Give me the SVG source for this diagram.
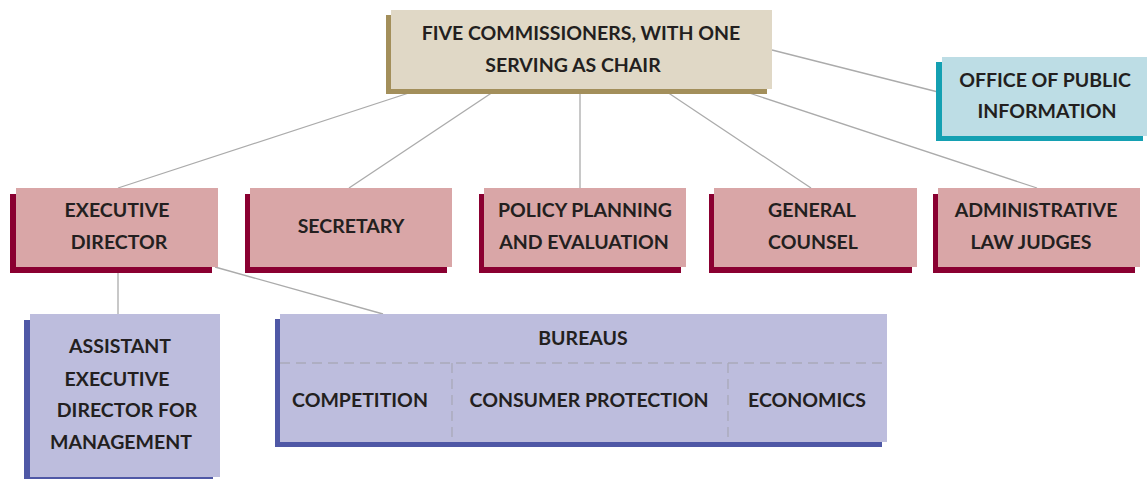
<svg xmlns="http://www.w3.org/2000/svg" width="1147" height="479" viewBox="0 0 1147 479">
<style>
text{font-family:Lato,"Open Sans","Liberation Sans",sans-serif;font-weight:700;font-size:19.5px;fill:#231f20;text-anchor:middle}
.conn line{stroke:#ababab;stroke-width:1.3}
.tanF{fill:#e0d8c6}.tanS{fill:#a38f5b}
.tealF{fill:#bddde5}.tealS{fill:#14a0b2}
.roseF{fill:#d9a6a7}.roseS{fill:#8a0031}
.lavF{fill:#bdbddd}.lavS{fill:#4f58a6}
.dash{stroke:#a9a9b9;stroke-width:1.3;stroke-dasharray:10 6;fill:none}
</style>
<rect width="1147" height="479" fill="#ffffff"/>
<g id="connectors" class="conn">
<line x1="418" y1="90" x2="118" y2="188"/>
<line x1="496" y1="90" x2="349" y2="188"/>
<line x1="580" y1="90" x2="580" y2="188"/>
<line x1="664" y1="90" x2="811" y2="188"/>
<line x1="740" y1="90" x2="1037" y2="188"/>
<line x1="772" y1="50" x2="942" y2="93"/>
<line x1="118" y1="267" x2="118" y2="314"/>
<line x1="215" y1="267" x2="383" y2="314"/>
</g>
<g id="commissioners">
<rect class="tanS" x="386" y="15" width="381" height="79"/>
<rect class="tanF" x="391" y="10" width="381" height="79"/>
<text x="581" y="40">FIVE COMMISSIONERS, WITH ONE</text>
<text x="573" y="72">SERVING AS CHAIR</text>
</g>
<g id="public-information">
<rect class="tealS" x="936" y="62" width="207" height="79"/>
<rect class="tealF" x="942" y="57" width="205" height="79"/>
<text x="1045" y="87">OFFICE OF PUBLIC</text>
<text x="1047" y="118">INFORMATION</text>
</g>
<g id="executive-director">
<rect class="roseS" x="10" y="194" width="202" height="79"/>
<rect class="roseF" x="16" y="188" width="202" height="79"/>
<text x="117" y="217">EXECUTIVE</text>
<text x="119" y="249">DIRECTOR</text>
</g>
<g id="secretary">
<rect class="roseS" x="245" y="194" width="202" height="79"/>
<rect class="roseF" x="250" y="188" width="202" height="79"/>
<text x="351" y="233">SECRETARY</text>
</g>
<g id="policy-planning">
<rect class="roseS" x="479" y="194" width="202" height="79"/>
<rect class="roseF" x="484" y="188" width="202" height="79"/>
<text x="585" y="217">POLICY PLANNING</text>
<text x="584" y="249">AND EVALUATION</text>
</g>
<g id="general-counsel">
<rect class="roseS" x="709" y="194" width="203" height="79"/>
<rect class="roseF" x="714" y="188" width="203" height="79"/>
<text x="812" y="217">GENERAL</text>
<text x="813" y="249">COUNSEL</text>
</g>
<g id="administrative-law-judges">
<rect class="roseS" x="933" y="194" width="202" height="79"/>
<rect class="roseF" x="938" y="188" width="202" height="79"/>
<text x="1036" y="217">ADMINISTRATIVE</text>
<text x="1031" y="249">LAW JUDGES</text>
</g>
<g id="assistant-executive-director">
<rect class="lavS" x="24" y="320" width="189" height="159"/>
<rect class="lavF" x="30" y="314" width="190" height="163"/>
<text x="120" y="353">ASSISTANT</text>
<text x="117" y="386">EXECUTIVE</text>
<text x="127" y="417">DIRECTOR FOR</text>
<text x="121" y="449">MANAGEMENT</text>
</g>
<g id="bureaus">
<rect class="lavS" x="275" y="319" width="607" height="128"/>
<rect class="lavF" x="280" y="314" width="607" height="128"/>
<path class="dash" d="M280 363H887M452 363V442M728 363V442"/>
<text x="583" y="345">BUREAUS</text>
<text x="360" y="407">COMPETITION</text>
<text x="589" y="407">CONSUMER PROTECTION</text>
<text x="807" y="407">ECONOMICS</text>
</g>
</svg>
